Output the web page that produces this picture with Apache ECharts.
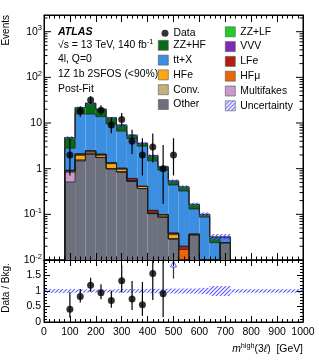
<!DOCTYPE html>
<html><head><meta charset="utf-8">
<script src="https://cdn.jsdelivr.net/npm/echarts@6/dist/echarts.min.js"></script>
<style>html,body{margin:0;padding:0;background:#fff}#c{width:319px;height:360px}</style>
</head><body><div id="c"></div>
<script>
// ---------------- data ----------------
const binLow  = [80,120,160,200,240,280,320,360,400,440,480,520,560,600,640,680];
const binHigh = [120,160,200,240,280,320,360,400,440,480,520,560,600,640,680,720];
// stacked backgrounds, bottom -> top
const other      = [0.51,1.46,2.08,1.76,0.99,0.85,0.53,0.367,0.104,0.087,0.029,0.004,0.0345,0,0,0.024];
const multifakes = [0.34,0.08,0.02,0,0,0,0,0,0,0,0,0,0.002,0,0,0];
const conv       = [0,0,0,0,0.02,0,0,0,0,0,0,0,0,0,0,0];
const hfe        = [0.06,0.45,0.2,0.2,0.28,0.12,0.02,0.04,0,0.011,0.007,0,0,0,0,0];
const hfmu       = [0,0,0.12,0.08,0.05,0.05,0,0,0.003,0,0.002,0.013,0,0,0,0];
const lfe        = [0.01,0.12,0.05,0.04,0,0,0.06,0.005,0.015,0,0.001,0.003,0,0,0,0];
const vvv        = [0,0,0,0,0,0,0,0,0,0,0,0,0,0,0,0];
const ttx        = [1.9,13.7,13.3,11.7,8.16,5.65,3.97,2.71,1.36,0.83,0.40,0.305,0.0945,0.087,0.024,0.007];
const zzhf       = [2.0,6.0,11.3,6.3,3.5,2.33,0.82,0.48,0.44,0.17,0.10,0.075,0.035,0.013,0.008,0.001];
const zzlf       = [0,0,0,0,0,0,0,0,0,0,0,0,0,0,0,0];
// relative background uncertainty per bin
const relUnc     = [0.06,0.05,0.05,0.05,0.05,0.06,0.06,0.06,0.07,0.07,0.08,0.08,0.08,0.10,0.16,0.16];
const outerBandUnc = 0.06;
// data
const dataX      = [100,140,180,220,260,300,340,380,420,460,500];
const dataY      = [2,18,32,19,9,12,4,2,3,1,2];
const dataLo     = [0.71,13.8,26.4,14.7,6.0,8.6,2.09,0.71,1.37,0.17,0.71];
const dataHi     = [4.64,23.3,38.7,24.4,13.1,16.5,7.16,4.64,5.92,3.30,4.64];
// axes
const xMin = 0, xMax = 1000, xStep = 100;
const yMinMain = 0.01, yMaxMain = 2320;
const rMin = 0, rMax = 2, rStep = 0.5;

// ---------------- styles ----------------
const FONT = 'Liberation Sans, Arial, Helvetica, sans-serif';
const comps = [
  ['Other', other, '#6d717e'],
  ['Multifakes', multifakes, '#cc99cc'],
  ['Conv.', conv, '#c1b27c'],
  ['HFe', hfe, '#ffa812'],
  ['HFμ', hfmu, '#e8650a'],
  ['LFe', lfe, '#b3200f'],
  ['VVV', vvv, '#7d2ab5'],
  ['tt+X', ttx, '#3c8ee0'],
  ['ZZ+HF', zzhf, '#0a6b16'],
  ['ZZ+LF', zzlf, '#22cc22']
];
function hatchCanvas(){
  const c = document.createElement('canvas'); c.width = 4; c.height = 4;
  const g = c.getContext('2d'); g.strokeStyle = '#5656ff'; g.lineWidth = 1.1;
  g.beginPath();
  g.moveTo(0,4); g.lineTo(4,0);
  g.moveTo(-2,2); g.lineTo(2,-2);
  g.moveTo(2,6); g.lineTo(6,2);
  g.stroke();
  return c;
}
const hatch = {image: hatchCanvas(), repeat: 'repeat'};

// cumulative
const cum = [];
comps.forEach((c,k)=>{ cum.push(c[1].map((v,i)=> v + (k ? cum[k-1][i] : 0))); });
const total = cum[cum.length-1];

function rectItem(fill){
  return function(params, api){
    const x0 = api.value(0), x1 = api.value(1), y0 = api.value(2), y1 = api.value(3);
    if (!(y1 > y0)) return;
    const ymin = api.value(4);
    const a = api.coord([x0, Math.max(y0, ymin)]);
    const b = api.coord([x1, Math.max(y1, ymin)]);
    return {type:'rect', shape:{x:a[0], y:b[1], width:b[0]-a[0], height:a[1]-b[1]}, style:{fill: fill}};
  };
}

const series = [];
comps.forEach((c,k)=>{
  series.push({
    type:'custom', name:c[0], xAxisIndex:0, yAxisIndex:0, clip:true, z:2, silent:true,
    itemStyle:{color:c[2]},
    data: binLow.map((x0,i)=>[x0, binHigh[i], k ? cum[k-1][i] : 0, cum[k][i], yMinMain]),
    renderItem: rectItem(c[2])
  });
});
// outlines of each stacked component
series.push({
  type:'custom', xAxisIndex:0, yAxisIndex:0, clip:true, z:3, silent:true,
  data:[[binLow[0], yMinMain]],
  renderItem:(p, api)=>{
    const ch = [];
    cum.forEach(level=>{
      const pts = [];
      const c = v => Math.max(v, yMinMain);
      pts.push(api.coord([binLow[0], yMinMain]));
      level.forEach((v,i)=>{ pts.push(api.coord([binLow[i], c(v)])); pts.push(api.coord([binHigh[i], c(v)])); });
      pts.push(api.coord([binHigh[binHigh.length-1], yMinMain]));
      ch.push({type:'polyline', shape:{points:pts}, style:{stroke:'#1e1e1e', lineWidth:0.8, fill:null}});
    });
    return {type:'group', children:ch};
  }
});
// uncertainty band main
series.push({
  type:'custom', name:'Uncertainty', xAxisIndex:0, yAxisIndex:0, clip:true, z:4, silent:true,
  itemStyle:{color:hatch},
  data: binLow.map((x0,i)=>[x0, binHigh[i], total[i]*(1-relUnc[i]), total[i]*(1+relUnc[i]), yMinMain]),
  renderItem: rectItem(hatch)
});
// data error bars + points
series.push({
  type:'custom', xAxisIndex:0, yAxisIndex:0, clip:true, z:9, silent:true,
  data: dataX.map((x,i)=>[x, dataLo[i], dataHi[i]]),
  renderItem:(p, api)=>{
    const a = api.coord([api.value(0), api.value(1)]), b = api.coord([api.value(0), api.value(2)]);
    return {type:'line', shape:{x1:a[0], y1:a[1], x2:b[0], y2:b[1]}, style:{stroke:'#000', lineWidth:1.2}};
  }
});
series.push({
  type:'scatter', name:'Data', xAxisIndex:0, yAxisIndex:0, z:10, silent:true,
  symbol:'circle', symbolSize:7, itemStyle:{color:'#000'},
  data: dataX.map((x,i)=>[x, dataY[i]])
});
// log minor / major ticks on both sides of the main panel
series.push({
  type:'custom', xAxisIndex:0, yAxisIndex:0, clip:false, z:12, silent:true,
  data:[[xMin, 1]],
  renderItem:(p, api)=>{
    const ch = [];
    for (let e = -2; e <= 3; e++) for (let m = 1; m <= 9; m++) {
      const v = m * Math.pow(10, e);
      if (v > yMaxMain || v < yMinMain) continue;
      const L = api.coord([xMin, v]), R = api.coord([xMax, v]);
      const len = m === 1 ? 7 : 3.5;
      ch.push({type:'line', shape:{x1:L[0], y1:L[1], x2:L[0]+len, y2:L[1]}, style:{stroke:'#000', lineWidth:1}});
      ch.push({type:'line', shape:{x1:R[0], y1:R[1], x2:R[0]-len, y2:R[1]}, style:{stroke:'#000', lineWidth:1}});
    }
    return {type:'group', children:ch};
  }
});

// ratio panel
const bandData = [[xMin, binLow[0], 1-outerBandUnc, 1+outerBandUnc, rMin]];
binLow.forEach((x0,i)=> bandData.push([x0, binHigh[i], 1-relUnc[i], 1+relUnc[i], rMin]));
bandData.push([binHigh[binHigh.length-1], xMax, 1-outerBandUnc, 1+outerBandUnc, rMin]);
series.push({
  type:'custom', xAxisIndex:2, yAxisIndex:2, clip:true, z:4, silent:true,
  data: bandData, renderItem: rectItem(hatch)
});
const ratioPts = [], ratioErr = [], ratioArrows = [];
dataX.forEach((x,i)=>{
  const j = binLow.findIndex((lo,k)=> x > lo && x < binHigh[k]);
  const r = dataY[i] / total[j];
  if (r > rMax) ratioArrows.push([x, rMax]);
  else { ratioPts.push([x, r]); ratioErr.push([x, dataLo[i]/total[j], Math.min(dataHi[i]/total[j], rMax)]); }
});
series.push({
  type:'custom', xAxisIndex:2, yAxisIndex:2, clip:true, z:9, silent:true,
  data: ratioErr,
  renderItem:(p, api)=>{
    const a = api.coord([api.value(0), api.value(1)]), b = api.coord([api.value(0), api.value(2)]);
    return {type:'line', shape:{x1:a[0], y1:a[1], x2:b[0], y2:b[1]}, style:{stroke:'#000', lineWidth:1.2}};
  }
});
series.push({
  type:'scatter', xAxisIndex:2, yAxisIndex:2, z:10, silent:true,
  symbol:'circle', symbolSize:7, itemStyle:{color:'#000'}, data: ratioPts
});
series.push({
  type:'custom', xAxisIndex:2, yAxisIndex:2, clip:false, z:10, silent:true,
  data: ratioArrows,
  renderItem:(p, api)=>{
    const top = api.coord([api.value(0), api.value(1)]);
    const bot = api.coord([api.value(0), api.value(1)*0.7]);
    const x = top[0], y = top[1];
    return {type:'group', children:[
      {type:'polygon', shape:{points:[[x, y+1],[x-3, y+7],[x+3, y+7]]}, style:{fill:'#fff', stroke:'#5a5af5', lineWidth:1}},
      {type:'line', shape:{x1:x, y1:y+7, x2:x, y2:bot[1]}, style:{stroke:'#333', lineWidth:1.2}}
    ]};
  }
});

// ---------------- axes ----------------
const axisLine = {show:true, onZero:false, lineStyle:{color:'#000', width:1}};
function xAx(grid, pos, labels, tl, ml){
  return {type:'value', gridIndex:grid, position:pos, min:xMin, max:xMax, interval:xStep, z:11,
    axisLine:axisLine, splitLine:{show:false},
    axisTick:{show:true, inside:true, length:tl, lineStyle:{color:'#000'}},
    minorTick:{show:true, splitNumber:5, length:ml, lineStyle:{color:'#000'}},
    axisLabel:{show:labels, color:'#000', fontSize:10.5, fontFamily:FONT, margin:5, showMinLabel:true, showMaxLabel:true, hideOverlap:false,
      formatter:v=>String(Math.round(v))}};
}
const supRich = {sup:{fontSize:7.5, fontFamily:FONT, color:'#000', padding:[0,0,7,0]}};
const xAxis = [
  xAx(0,'bottom',false,7,3.5),
  xAx(0,'top',false,7,3.5),
  xAx(1,'bottom',true,6,3),
  xAx(1,'top',false,6,3)
];
const yAxis = [
  {type:'log', gridIndex:0, position:'left', min:yMinMain, max:yMaxMain, logBase:10, z:11,
   axisLine:axisLine, splitLine:{show:false}, axisTick:{show:false}, minorTick:{show:false},
   axisLabel:{color:'#000', fontSize:10.5, fontFamily:FONT, margin:2, showMinLabel:true, showMaxLabel:true, hideOverlap:false,
     rich:supRich,
     formatter:v=>{ const e = Math.log10(v), r = Math.round(e); if (Math.abs(e-r) > 1e-6) return '';
       if (r === 0) return '1'; if (r === 1) return '10'; return '10{sup|' + r + '}'; }}},
  {type:'log', gridIndex:0, position:'right', min:yMinMain, max:yMaxMain, logBase:10, z:11,
   axisLine:axisLine, splitLine:{show:false}, axisTick:{show:false}, axisLabel:{show:false}},
  {type:'value', gridIndex:1, position:'left', min:rMin, max:rMax, interval:rStep, z:11,
   axisLine:axisLine, splitLine:{show:false},
   axisTick:{show:true, inside:true, length:6, lineStyle:{color:'#000'}},
   minorTick:{show:true, splitNumber:5, length:3, lineStyle:{color:'#000'}},
   axisLabel:{color:'#000', fontSize:10.5, fontFamily:FONT, margin:3, showMinLabel:true, hideOverlap:false,
     formatter:v=> v >= rMax ? '' : String(v)}},
  {type:'value', gridIndex:1, position:'right', min:rMin, max:rMax, interval:rStep, z:11,
   axisLine:axisLine, splitLine:{show:false},
   axisTick:{show:true, inside:true, length:6, lineStyle:{color:'#000'}},
   minorTick:{show:true, splitNumber:5, length:3, lineStyle:{color:'#000'}},
   axisLabel:{show:false}}
];

// ---------------- legends ----------------
const legText = {color:'#000', fontSize:10.4, fontFamily:FONT, lineHeight:10};
const legBase = {orient:'vertical', selectedMode:false, itemGap:4.2, textStyle:legText, padding:0,
  itemStyle:{borderColor:'#555', borderWidth:0.6}};
const legend = [
  Object.assign({}, legBase, {left:161.5, top:28.2, itemWidth:7, itemHeight:7, icon:'circle', itemGap:4,
     data:[{name:'Data'}], itemStyle:{borderWidth:0}}),
  Object.assign({}, legBase, {left:158, top:40, itemWidth:10, itemHeight:10, icon:'rect',
     data:['ZZ+HF','tt+X','HFe','Conv.','Other']}),
  Object.assign({}, legBase, {left:225, top:26.5, itemWidth:10, itemHeight:10, icon:'rect',
     data:['ZZ+LF','VVV','LFe','HFμ','Multifakes','Uncertainty']})
];

// ---------------- text ----------------
const txt = (x, y, text, extra) => ({type:'text', x:x, y:y, silent:true, z:20,
  style:Object.assign({text:text, fill:'#000', fontSize:10.4, fontFamily:FONT, textVerticalAlign:'middle'}, extra || {})});
const sup2 = {sup:{fontSize:7.3, fontFamily:FONT, fill:'#000', padding:[0,0,6,0]}};
const graphic = [
  txt(58, 31.7, 'ATLAS', {fontWeight:'bold', fontStyle:'italic', fontSize:10.6}),
  txt(58, 44.7, '√s = 13 TeV, 140 fb{sup|-1}', {rich:sup2}),
  txt(58, 59.3, '4l, Q=0'),
  txt(58, 74, '1Z 1b 2SFOS (<90%)'),
  txt(58, 88.7, 'Post-Fit'),
  txt(6, 15, 'Events', {textAlign:'right', fontSize:10}),
  txt(6, 288, 'Data / Bkg.', {textAlign:'center', fontSize:10}),
  txt(303, 349, '{it|m}{sup|high}(3{it|ℓ})  [GeV]', {textAlign:'right', fontSize:10.4,
     rich:{it:{fontStyle:'italic', fontSize:10.4, fontFamily:FONT, fill:'#000'}, sup:{fontSize:7.3, fontFamily:FONT, fill:'#000', padding:[0,0,6,0]}}})
];
graphic[5].rotation = Math.PI/2;
graphic[6].rotation = Math.PI/2;

const option = {
  animation:false,
  backgroundColor:'#fff',
  grid:[
    {left:44, right:16, top:15, height:245, show:true, borderColor:'#000', borderWidth:1, backgroundColor:'transparent'},
    {left:44, right:16, top:260, height:62, show:true, borderColor:'#000', borderWidth:1, backgroundColor:'transparent'}
  ],
  xAxis:xAxis, yAxis:yAxis, legend:legend, graphic:graphic, series:series
};
const chart = echarts.init(document.getElementById('c'), null, {renderer:'canvas', width:319, height:360});
chart.setOption(option);
</script>
</body></html>
